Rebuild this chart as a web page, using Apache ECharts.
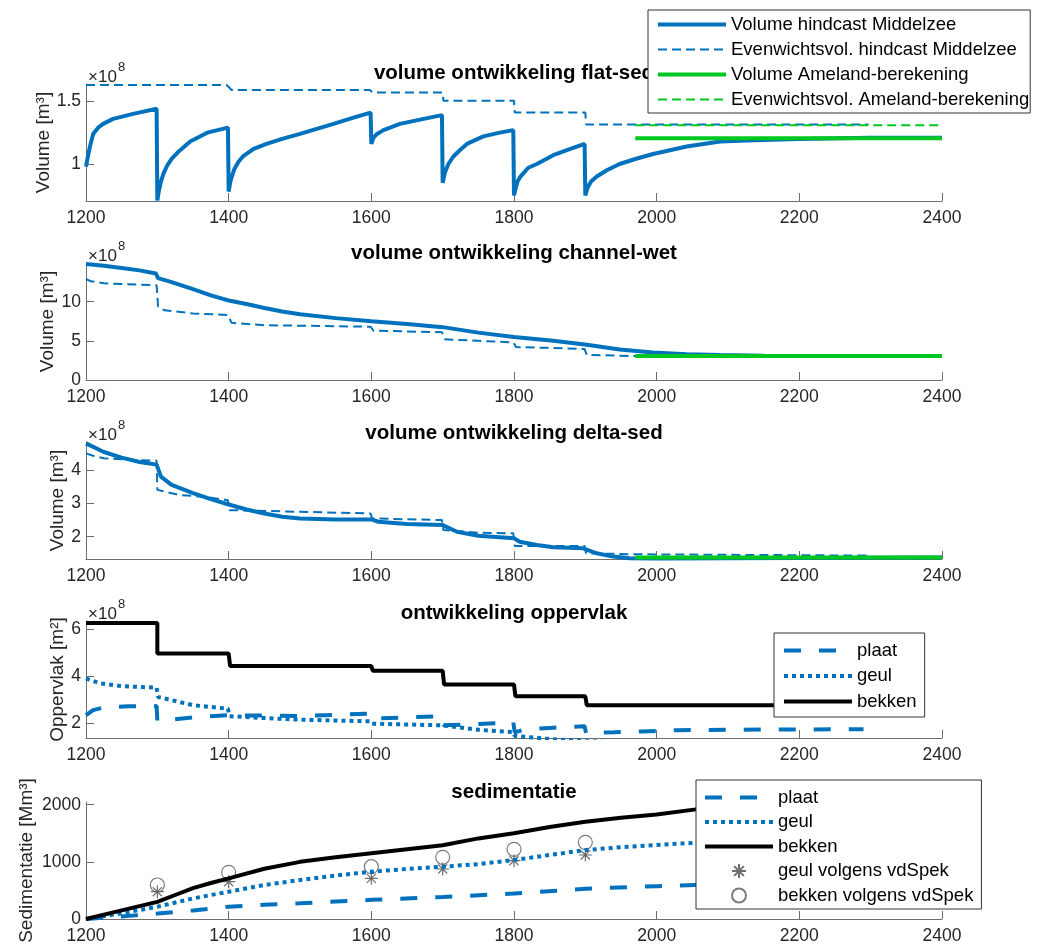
<!DOCTYPE html>
<html>
<head>
<meta charset="utf-8">
<title>volume ontwikkeling</title>
<script src="https://cdn.jsdelivr.net/npm/echarts@6/dist/echarts.min.js"></script>
<style>
	html, body { margin: 0; padding: 0; background: #fff; }
	#chartDom { width: 1040px; height: 949px; }
</style>
</head>
<body>
<div id="chartDom"></div>
<script>
// panel 1: flat-sed [x1e8 m3]
var flatVol = [[1200, 0.98], [1203, 1.07], [1206, 1.15], [1210, 1.24], [1217, 1.29], [1224, 1.32], [1238, 1.36], [1266, 1.40], [1299, 1.44],
	[1300, 0.71], [1302, 0.78], [1305, 0.86], [1309, 0.93], [1314, 0.99], [1320, 1.04], [1330, 1.10], [1346, 1.18], [1370, 1.25], [1399, 1.29],
	[1400, 0.78], [1402, 0.85], [1405, 0.91], [1408, 0.96], [1414, 1.02], [1420, 1.06], [1435, 1.12], [1453, 1.16], [1475, 1.20], [1500, 1.24], [1547, 1.32], [1575, 1.37], [1599, 1.41],
	[1600, 1.16], [1603, 1.21], [1608, 1.24], [1617, 1.27], [1640, 1.32], [1665, 1.35], [1699, 1.39],
	[1700, 0.85], [1703, 0.93], [1708, 1.00], [1715, 1.06], [1724, 1.11], [1734, 1.16], [1757, 1.22], [1780, 1.25], [1799, 1.27],
	[1800, 0.75], [1802, 0.80], [1805, 0.86], [1809, 0.90], [1820, 0.97], [1832, 1.00], [1855, 1.07], [1879, 1.12], [1899, 1.16],
	[1900, 0.75], [1903, 0.81], [1908, 0.86], [1916, 0.90], [1930, 0.95], [1948, 1.00], [1970, 1.04], [1995, 1.08], [2042, 1.14], [2089, 1.18], [2136, 1.19], [2200, 1.20], [2300, 1.21], [2400, 1.21]];
var flatEq = [[1200, 1.63], [1397, 1.63], [1400, 1.615], [1404, 1.59], [1598, 1.59], [1602, 1.57], [1700, 1.57], [1701, 1.505], [1800, 1.505],
	[1801, 1.41], [1900, 1.41], [1901, 1.315], [2297, 1.315]];
var flatAmeVol = [[1970, 1.205], [2400, 1.205]];
var flatAmeEq = [[1970, 1.31], [2400, 1.31]];

// panel 2: channel-wet [x1e8 m3]
var chanVol = [[1200, 14.8], [1225, 14.6], [1250, 14.3], [1275, 14.0], [1298, 13.6], [1301, 13.0], [1320, 12.5], [1350, 11.6], [1375, 10.8], [1400, 10.15],
	[1425, 9.7], [1450, 9.2], [1475, 8.75], [1500, 8.4], [1550, 7.9], [1600, 7.5], [1650, 7.15], [1700, 6.75], [1725, 6.4], [1750, 6.05], [1800, 5.5],
	[1855, 5.0], [1902, 4.5], [1948, 3.9], [1995, 3.5], [2042, 3.3], [2089, 3.2], [2150, 3.1], [2250, 3.06], [2400, 3.05]];
var chanEq = [[1200, 12.9], [1207, 12.6], [1225, 12.35], [1250, 12.25], [1299, 12.1], [1301, 9.4], [1310, 8.9], [1350, 8.5], [1399, 8.3],
	[1404, 7.3], [1450, 7.0], [1599, 6.8], [1603, 6.3], [1699, 6.1], [1703, 5.2], [1750, 5.0], [1799, 4.8], [1803, 4.2], [1850, 4.1], [1899, 3.95],
	[1902, 3.2], [1970, 3.06], [2300, 3.05]];
var chanAmeVol = [[1970, 3.07], [2400, 3.07]];
var chanAmeEq = [[1970, 3.07], [2400, 3.07]];

// panel 3: delta-sed [x1e8 m3]
var deltaVol = [[1200, 4.81], [1225, 4.55], [1250, 4.38], [1275, 4.25], [1299, 4.17], [1305, 3.81], [1320, 3.56], [1350, 3.31], [1375, 3.13], [1400, 2.97],
	[1425, 2.82], [1450, 2.70], [1475, 2.60], [1500, 2.55], [1550, 2.52], [1600, 2.52], [1610, 2.45], [1650, 2.38], [1700, 2.35], [1720, 2.15],
	[1750, 2.03], [1800, 1.95], [1808, 1.85], [1832, 1.75], [1855, 1.68], [1897, 1.65], [1916, 1.50], [1939, 1.40], [1962, 1.35], [2000, 1.34],
	[2100, 1.35], [2400, 1.37]];
var deltaEq = [[1200, 4.51], [1210, 4.44], [1225, 4.36], [1270, 4.31], [1299, 4.29], [1300, 3.41], [1330, 3.26], [1370, 3.19], [1399, 3.10],
	[1401, 2.80], [1500, 2.75], [1599, 2.70], [1601, 2.55], [1699, 2.50], [1701, 2.20], [1750, 2.12], [1799, 2.10], [1801, 1.72], [1899, 1.72],
	[1901, 1.50], [1970, 1.47], [2300, 1.43]];
var deltaAmeVol = [[1970, 1.37], [2400, 1.37]];
var deltaAmeEq = [[1970, 1.39], [2400, 1.39]];

// panel 4: oppervlak [x1e8 m2]
var plaatOpp = [[1200, 2.33], [1210, 2.55], [1225, 2.66], [1260, 2.71], [1299, 2.72], [1300, 2.1], [1320, 2.14], [1350, 2.24], [1399, 2.33],
	[1401, 2.26], [1500, 2.3], [1599, 2.4], [1601, 2.19], [1699, 2.29], [1701, 1.9], [1799, 2.02], [1801, 1.6], [1815, 1.72], [1850, 1.79],
	[1899, 1.86], [1901, 1.57], [1940, 1.6], [1980, 1.64], [2030, 1.69], [2150, 1.72], [2290, 1.73]];
var geulOpp = [[1200, 3.9], [1220, 3.69], [1250, 3.57], [1299, 3.51], [1301, 3.11], [1350, 2.76], [1399, 2.61], [1401, 2.29], [1450, 2.21],
	[1500, 2.14], [1599, 2.07], [1601, 1.97], [1699, 1.9], [1701, 1.83], [1750, 1.71], [1799, 1.61], [1801, 1.45], [1830, 1.37], [1857, 1.3],
	[1900, 1.22], [2000, 1.12]];
var bekkenOpp = [[1200, 6.27], [1300, 6.27], [1300, 4.97], [1400, 4.97], [1402, 4.43], [1600, 4.43], [1602, 4.23], [1700, 4.23], [1702, 3.64],
	[1800, 3.64], [1802, 3.14], [1900, 3.14], [1902, 2.76], [2300, 2.76]];

// panel 5: sedimentatie [Mm3]
var plaatSed = [[1200, 0], [1250, 45], [1300, 95], [1350, 150], [1400, 215], [1450, 250], [1500, 275], [1600, 335], [1700, 385], [1800, 445],
	[1900, 530], [2000, 575], [2055, 595], [2150, 610], [2300, 630]];
var geulSed = [[1200, 0], [1250, 100], [1300, 215], [1350, 360], [1400, 478], [1450, 595], [1500, 682], [1550, 760], [1600, 828], [1650, 875],
	[1700, 915], [1750, 960], [1800, 1032], [1850, 1120], [1900, 1207], [1950, 1255], [2000, 1294], [2055, 1335], [2150, 1370], [2300, 1400]];
var bekkenSed = [[1200, 0], [1250, 150], [1300, 300], [1325, 420], [1350, 540], [1375, 630], [1400, 710], [1450, 880], [1500, 1000], [1550, 1080],
	[1600, 1150], [1650, 1220], [1700, 1290], [1750, 1410], [1800, 1500], [1850, 1610], [1900, 1700], [1950, 1770], [2000, 1830], [2055, 1918],
	[2150, 1980], [2300, 2040]];
var spekYears = [1300, 1400, 1600, 1700, 1800, 1900];
var geulSpek = [478, 653, 711, 875, 1020, 1120];
var bekkenSpek = [595, 816, 915, 1079, 1219, 1341];

var yTicks = [[1, 1.5], [0, 5, 10], [2, 3, 4], [2, 4, 6], [0, 1000, 2000]];
var titles = ['volume ontwikkeling flat-sed', 'volume ontwikkeling channel-wet', 'volume ontwikkeling delta-sed', 'ontwikkeling oppervlak', 'sedimentatie'];

var FONT = '"Liberation Sans", Arial, Helvetica, sans-serif';
var BLUE = '#0072BD';
var GREEN = '#00C820';
var AXIS = '#6e6e6e';
var TXT = '#262626';

drawChart();

function pairs(xs, ys) {
	return xs.map(function(x, i) {
		return [x, ys[i]];
	});
}

function plain(v) {
	return String(v);
}

function xAxisAt(i) {
	return {
		type: 'value',
		gridIndex: i,
		min: 1200,
		max: 2400,
		interval: 200,
		axisLine: { show: true, lineStyle: { color: AXIS, width: 1 } },
		axisTick: { show: true, inside: true, length: 8, lineStyle: { color: AXIS } },
		axisLabel: { color: TXT, fontSize: 17.5, fontFamily: FONT, margin: 8, formatter: plain },
		splitLine: { show: false }
	};
}

function yAxisAt(i, min, max, name, gap) {
	return {
		type: 'value',
		gridIndex: i,
		min: min,
		max: max,
		name: name,
		nameLocation: 'middle',
		nameGap: gap,
		nameMoveOverlap: false,
		nameTextStyle: { color: TXT, fontSize: 19, fontFamily: FONT },
		axisLine: { show: true, lineStyle: { color: AXIS, width: 1 } },
		axisTick: { show: true, inside: true, length: 8, lineStyle: { color: AXIS }, customValues: yTicks[i] },
		axisLabel: { color: TXT, fontSize: 17.5, fontFamily: FONT, margin: 5, customValues: yTicks[i], formatter: plain },
		splitLine: { show: false }
	};
}

function line(name, i, data, color, width, dash) {
	return {
		name: name,
		type: 'line',
		xAxisIndex: i,
		yAxisIndex: i,
		data: data,
		symbol: 'none',
		lineStyle: { color: color, width: width, type: dash || 'solid' },
		itemStyle: { color: color }
	};
}

// legend entry of a line series: no marker in the middle, full line width
function lineItem(name, width) {
	return { name: name, itemStyle: { opacity: 0 }, lineStyle: { width: width } };
}

function legendAt(items, left, top, padding, gap) {
	return {
		data: items,
		orient: 'vertical',
		left: left,
		top: top,
		padding: padding,
		itemGap: gap,
		itemWidth: 68,
		itemHeight: 14,
		selectedMode: false,
		backgroundColor: '#fff',
		borderColor: '#333',
		borderWidth: 1,
		z: 10,
		textStyle: { color: '#000', fontSize: 18.5, fontFamily: FONT }
	};
}

function drawChart() {
	var myChart = echarts.init(document.getElementById('chartDom'));
	var tops = [84, 263, 442, 621, 802];
	var titleY = [73, 253, 433, 613, 792];
	var grids = tops.map(function(t) {
		return { left: 86, right: 98, top: t, height: 117 };
	});

	var titleList = titles.map(function(t, i) {
		return {
			text: t, left: 514, top: titleY[i], padding: 0, textAlign: 'center', textVerticalAlign: 'middle',
			textStyle: { fontSize: 20.5, fontWeight: 'bold', color: '#000', fontFamily: FONT }
		};
	});
	// x10^8 exponent labels of the first four panels
	[0, 1, 2, 3].forEach(function(i) {
		titleList.push({
			text: '\u00d710', left: 88, top: tops[i] - 7, padding: 0, textAlign: 'left', textVerticalAlign: 'middle',
			textStyle: { fontSize: 17, fontWeight: 'normal', color: TXT, fontFamily: FONT }
		});
		titleList.push({
			text: '8', left: 118, top: tops[i] - 17, padding: 0, textAlign: 'left', textVerticalAlign: 'middle',
			textStyle: { fontSize: 13, fontWeight: 'normal', color: TXT, fontFamily: FONT }
		});
	});

	var dashThin = [9, 5];
	var dashLong = [17, 18];
	var dots = [4, 4];
	var star = 'path://M0,-10L0,10M-10,0L10,0M-7,-7L7,7M-7,7L7,-7';

	var series = [
		line('Volume hindcast Middelzee', 0, flatVol, BLUE, 4),
		line('Evenwichtsvol. hindcast Middelzee', 0, flatEq, BLUE, 2, dashThin),
		line('Volume Ameland-berekening', 0, flatAmeVol, GREEN, 4),
		line('Evenwichtsvol. Ameland-berekening', 0, flatAmeEq, GREEN, 2, dashThin),

		line('Volume hindcast Middelzee', 1, chanVol, BLUE, 4),
		line('Evenwichtsvol. hindcast Middelzee', 1, chanEq, BLUE, 2, dashThin),
		line('Volume Ameland-berekening', 1, chanAmeVol, GREEN, 4),
		line('Evenwichtsvol. Ameland-berekening', 1, chanAmeEq, GREEN, 2, dashThin),

		line('Volume hindcast Middelzee', 2, deltaVol, BLUE, 4),
		line('Evenwichtsvol. hindcast Middelzee', 2, deltaEq, BLUE, 2, dashThin),
		line('Volume Ameland-berekening', 2, deltaAmeVol, GREEN, 4),
		line('Evenwichtsvol. Ameland-berekening', 2, deltaAmeEq, GREEN, 2, dashThin),

		line('plaat', 3, plaatOpp, BLUE, 4, dashLong),
		line('geul', 3, geulOpp, BLUE, 4, dots),
		line('bekken', 3, bekkenOpp, '#000', 4),

		line('plaat', 4, plaatSed, BLUE, 4, dashLong),
		line('geul', 4, geulSed, BLUE, 4, dots),
		line('bekken', 4, bekkenSed, '#000', 4),
		{
			name: 'geul volgens vdSpek',
			type: 'scatter',
			xAxisIndex: 4,
			yAxisIndex: 4,
			data: pairs(spekYears, geulSpek),
			symbol: star,
			symbolSize: 13,
			itemStyle: { color: 'transparent', borderColor: '#4a4a4a', borderWidth: 1.2 }
		},
		{
			name: 'bekken volgens vdSpek',
			type: 'scatter',
			xAxisIndex: 4,
			yAxisIndex: 4,
			data: pairs(spekYears, bekkenSpek),
			symbol: 'circle',
			symbolSize: 14,
			itemStyle: { color: 'transparent', borderColor: '#5a5a5a', borderWidth: 1.2 }
		}
	];

	var sedLegend = [lineItem('plaat', 4), lineItem('geul', 4), lineItem('bekken', 4), 'geul volgens vdSpek', 'bekken volgens vdSpek'];

	var option = {
		animation: false,
		backgroundColor: '#fff',
		title: titleList,
		grid: grids,
		xAxis: [0, 1, 2, 3, 4].map(xAxisAt),
		yAxis: [
			yAxisAt(0, 0.705, 1.638, 'Volume [m\u00b3]', 33),
			yAxisAt(1, 0, 14.94, 'Volume [m\u00b3]', 29),
			yAxisAt(2, 1.328, 4.852, 'Volume [m\u00b3]', 19),
			yAxisAt(3, 1.358, 6.355, 'Oppervlak [m\u00b2]', 18.5),
			yAxisAt(4, 0, 2047, 'Sedimentatie [Mm\u00b3]', 49.5)
		],
		legend: [
			legendAt([lineItem('Volume hindcast Middelzee', 4), lineItem('Evenwichtsvol. hindcast Middelzee', 2),
				lineItem('Volume Ameland-berekening', 4), lineItem('Evenwichtsvol. Ameland-berekening', 2)],
				648, 10, [5, 1, 4, 8], 6),
			legendAt([lineItem('plaat', 4), lineItem('geul', 4), lineItem('bekken', 4)], 774, 633, [8, 8, 6, 8], 6.5),
			legendAt(sedLegend, 696, 780, [8, 8, 4, 7], 5.5)
		],
		series: series
	};
	myChart.setOption(option, true);
}
</script>
</body>
</html>
